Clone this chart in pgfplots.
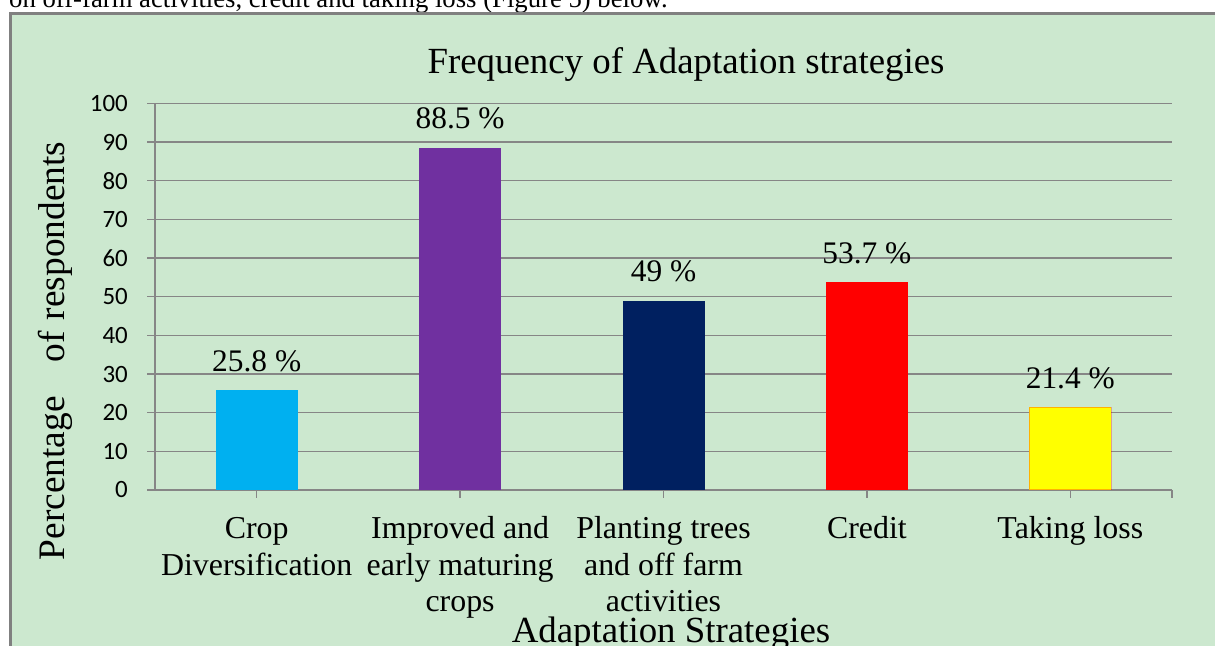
\documentclass[border=0pt]{standalone}
\usepackage{pgfplots}
\pgfplotsset{compat=1.18}
\usepackage{fontspec}
\setmainfont{Liberation Serif}
\newfontfamily\calib{Carlito}
\definecolor{bgg}{RGB}{204,232,207}
\definecolor{gridg}{RGB}{134,134,134}
\definecolor{frameg}{RGB}{128,128,128}
\definecolor{cblue}{RGB}{0,176,240}
\definecolor{cpurple}{RGB}{112,48,160}
\definecolor{cnavy}{RGB}{0,32,96}
\definecolor{cred}{RGB}{255,0,0}
\definecolor{cyellow}{RGB}{255,255,0}
\newcommand\fl{\rule{0pt}{23bp}}
\begin{document}
\begin{tikzpicture}[x=1bp,y=1bp]
\path[use as bounding box] (0,0) rectangle (1215,646);
\clip (0,0) rectangle (1215,646);
\fill[white] (0,0) rectangle (1215,646);
\node[anchor=base west, inner sep=0pt, font=\fontsize{26.8}{30}\selectfont] at (9,638) {on off-farm activities, credit and taking loss (Figure 5) below.};
\fill[bgg] (10,-10) rectangle (1230,632.5);
\draw[frameg, line width=3bp] (10,-10) -- (10,632.5) -- (1230,632.5);
\begin{axis}[
  at={(155bp,156bp)}, anchor=south west, scale only axis,
  width=1017bp, height=386.6bp,
  xmin=-0.5, xmax=4.5, ymin=0, ymax=100,
  ybar, bar width=82bp,
  axis x line*=bottom, axis y line*=left,
  axis line style={gridg, line width=1.3bp, -},
  ymajorgrids, grid style={gridg, line width=1.3bp},
  ytick={0,10,...,100},
  xtick={0,1,2,3,4},
  extra x ticks={4.5}, extra x tick labels={},
  extra x tick style={grid=none},
  xticklabels={{\fl Crop\\Diversification},{\fl Improved and\\early maturing\\crops},{\fl Planting trees\\and off farm\\activities},{\fl Credit},{\fl Taking loss}},
  xticklabel style={align=center, anchor=north, inner sep=0pt, font=\fontsize{32}{37}\selectfont, yshift=-17bp},
  yticklabel style={anchor=east, inner sep=0pt, font=\calib\fontsize{25}{25}\selectfont, xshift=-19bp},
  /pgf/number format/assume math mode=true,
  tick align=outside,
  major tick length=8bp,
  tick style={gridg, line width=1.3bp},
  point meta=explicit symbolic,
  nodes near coords,
  every node near coord/.style={anchor=base, yshift=19bp, inner sep=0pt, font=\fontsize{31.5}{31.5}\selectfont, text=black},
]
\addplot[fill=cblue, draw=none, bar shift=0pt] coordinates {(0,25.8) [25.8 \%]};
\addplot[fill=cpurple, draw=none, bar shift=0pt] coordinates {(1,88.5) [88.5 \%]};
\addplot[fill=cnavy, draw=none, bar shift=0pt] coordinates {(2,49) [49 \%]};
\addplot[fill=cred, draw=none, bar shift=0pt] coordinates {(3,53.7) [53.7 \%]};
\addplot[fill=cyellow, draw=red, draw opacity=0.3, line width=1.5bp, bar shift=0pt] coordinates {(4,21.4) [21.4 \%]};
\end{axis}
\node[anchor=base, inner sep=0pt, font=\fontsize{37}{37}\selectfont] at (686,572) {Frequency of Adaptation strategies};
\node[anchor=base, inner sep=0pt, font=\fontsize{37}{37}\selectfont] at (671,3) {Adaptation Strategies};
\node[rotate=90, anchor=base, inner sep=0pt, font=\fontsize{37.5}{37.5}\selectfont] at (64,295) {Percentage\hspace{34bp}of\hspace{11bp}respondents};
\end{tikzpicture}
\end{document}
